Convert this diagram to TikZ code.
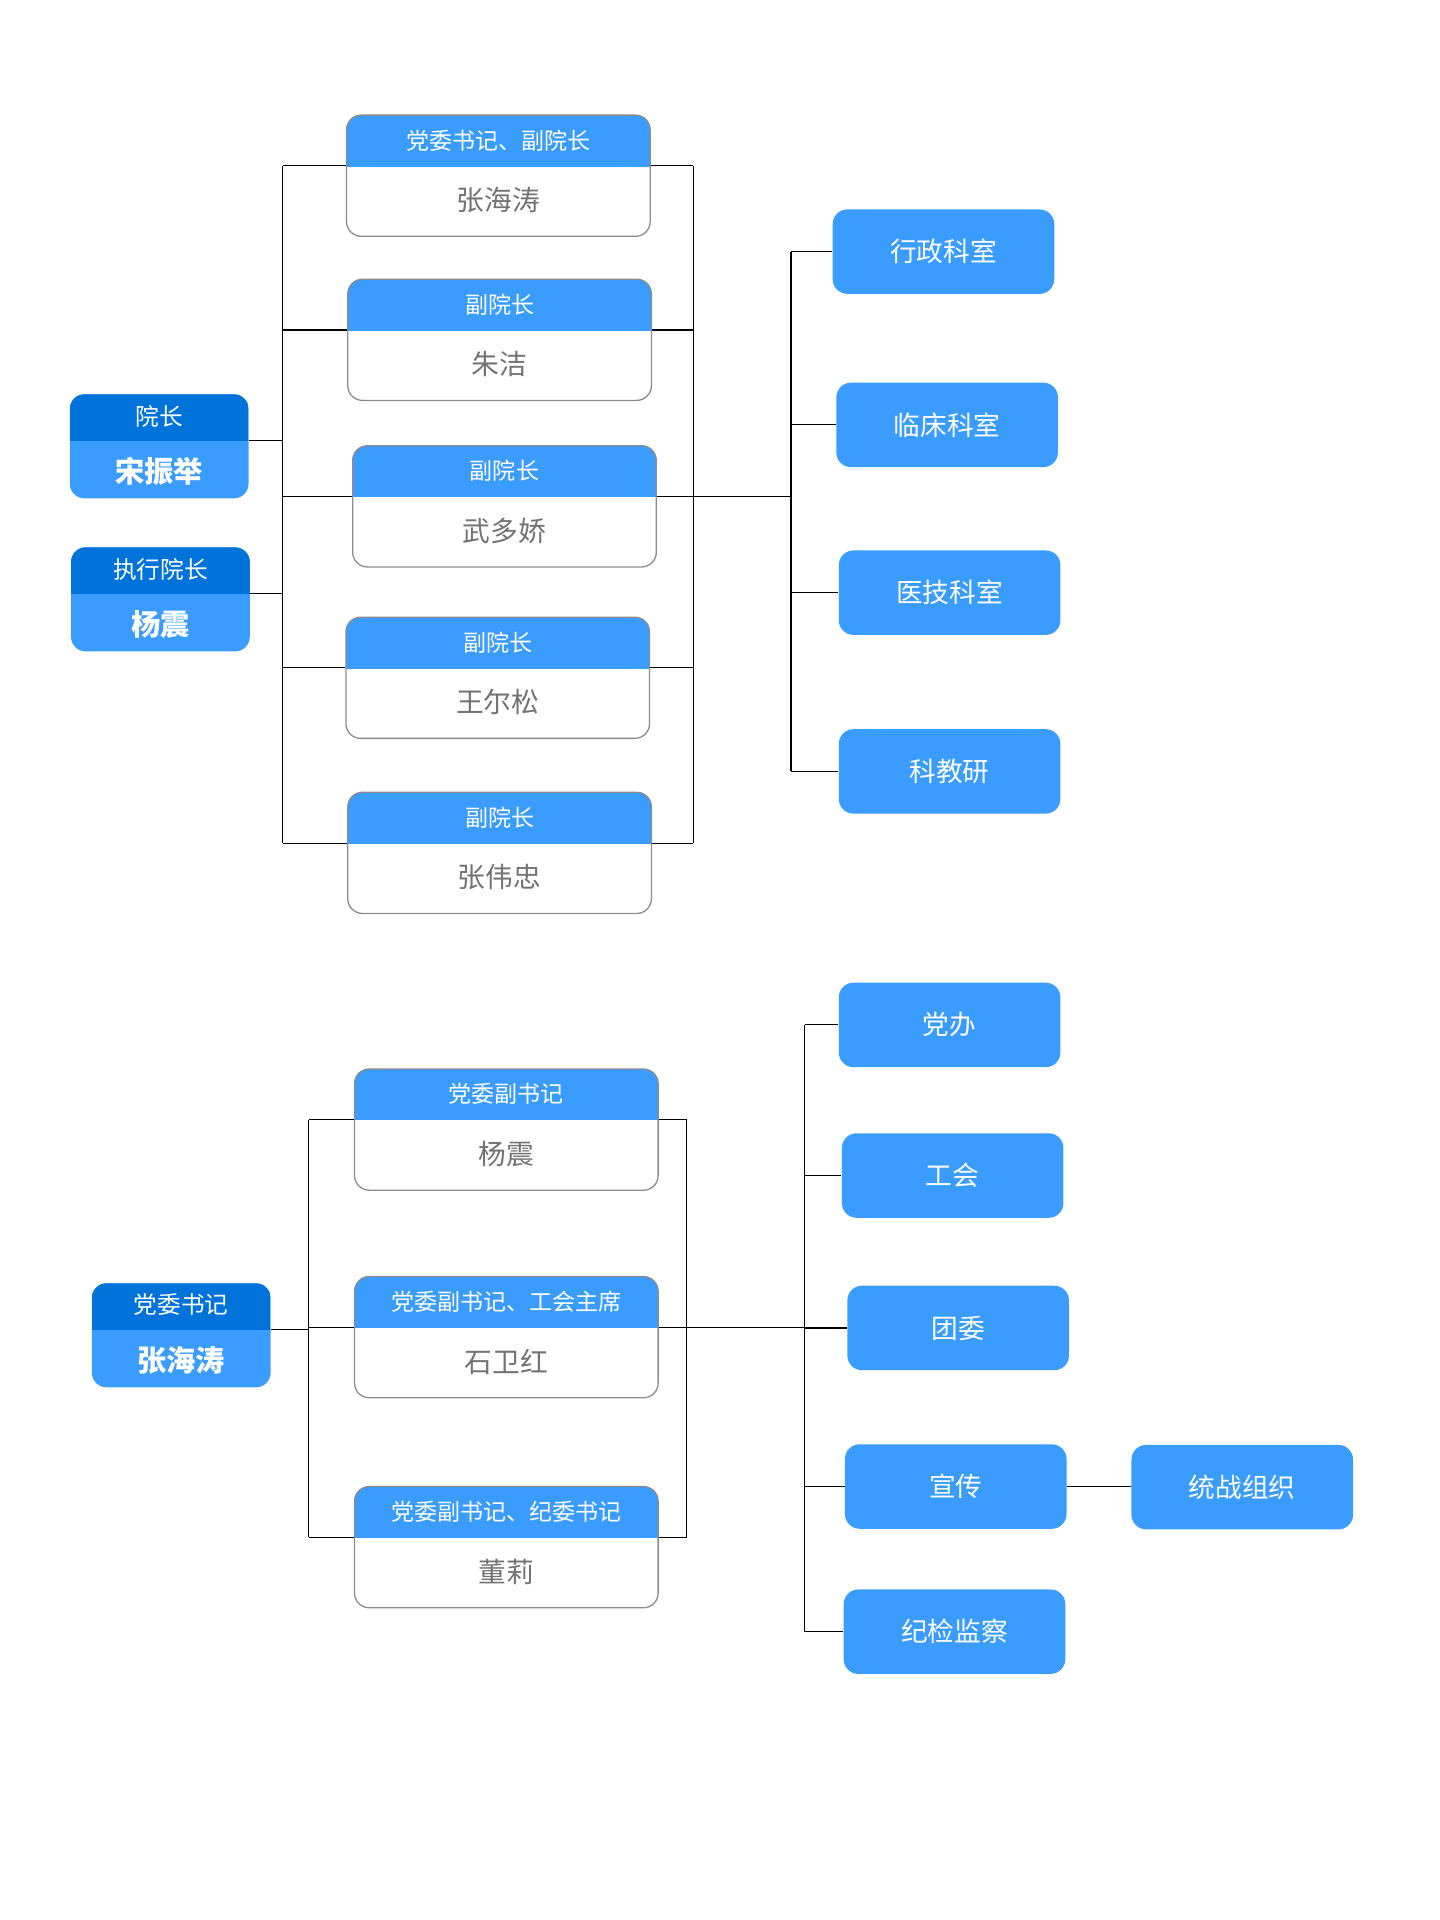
\documentclass[tikz,border=0pt]{standalone}
\usepackage{fontspec}
\setmainfont{Noto Sans CJK SC}
\usetikzlibrary{calc}
\definecolor{orgblue}{RGB}{58,156,255}
\definecolor{orgdark}{RGB}{0,115,219}
\definecolor{orgrim}{RGB}{140,140,140}
\definecolor{orgname}{RGB}{115,115,115}
\tikzset{
  wire/.style      ={draw=black,line width=0.5pt},
  card/.style      ={draw=orgrim,line width=0.6pt,fill=white,rounded corners=0.24cm,
                     minimum width=4.96cm,minimum height=1.98cm,inner sep=0pt,
                     path picture={\fill[orgblue,sharp corners] (path picture bounding box.north west)
                       rectangle ([yshift=-0.84cm]path picture bounding box.north east);}},
  cardtitle/.style ={inner sep=0pt,text=white,font=\fontsize{10.7}{12}\selectfont},
  cardname/.style  ={inner sep=0pt,text=orgname,font=\fontsize{12.9}{15}\selectfont},
  chief/.style     ={fill=orgblue,rounded corners=0.24cm,minimum width=2.92cm,
                     minimum height=1.7cm,inner sep=0pt,
                     path picture={\fill[orgdark,sharp corners] (path picture bounding box.north west)
                       rectangle ([yshift=-0.76cm]path picture bounding box.north east);}},
  chieftitle/.style={inner sep=0pt,text=white,font=\fontsize{11}{13}\selectfont},
  chiefname/.style ={inner sep=0pt,text=white,font=\bfseries\fontsize{13.6}{16}\selectfont},
  dept/.style      ={fill=orgblue,rounded corners=0.24cm,minimum width=3.62cm,
                     minimum height=1.38cm,inner sep=0pt,text=white,
                     font=\fontsize{12.4}{15}\selectfont},
}
% card with blue title strip: name, x, y, title, person
\newcommand{\orgcard}[5]{%
  \node[card] (#1) at (#2,#3) {};
  \node[cardtitle] (#1-t) at ([yshift=-0.42cm]#1.north) {#4};
  \node[cardname] (#1-n) at ([yshift=-1.40cm]#1.north) {#5};
  \coordinate (#1-w) at ([yshift=-0.84cm]#1.north west);
  \coordinate (#1-e) at ([yshift=-0.84cm]#1.north east);
}
% head of a branch: name, x, y, title, person
\newcommand{\chiefbox}[5]{%
  \node[chief] (#1) at (#2,#3) {};
  \node[chieftitle] (#1-t) at ([yshift=-0.36cm]#1.north) {#4};
  \node[chiefname] (#1-n) at ([yshift=-1.26cm]#1.north) {#5};
  \coordinate (#1-e) at ([yshift=-0.76cm]#1.north east);
}

\begin{document}
\begin{tikzpicture}[x=0.02cm,y=-0.02cm]
  \useasboundingbox (0,0) rectangle (1176,1568);
  % hospital side
  \chiefbox{yz}{130}{364.5}{院长}{宋振举}
  \chiefbox{zx}{131}{489.5}{执行院长}{杨震}
  \orgcard{c1}{407}{143.5}{党委书记、副院长}{张海涛}
  \orgcard{c2}{408}{277.5}{副院长}{朱洁}
  \orgcard{c3}{412}{413.5}{副院长}{武多娇}
  \orgcard{c4}{406.5}{553.5}{副院长}{王尔松}
  \orgcard{c5}{408}{696.5}{副院长}{张伟忠}
  \node[dept] (d1) at (770.5,205.5) {行政科室};
  \node[dept] (d2) at (773.5,347) {临床科室};
  \node[dept] (d3) at (775.5,484) {医技科室};
  \node[dept] (d4) at (775.5,630) {科教研};
  \coordinate (lbus) at (231,0);
  \coordinate (rbus) at (566,0);
  \coordinate (dbus) at (646,0);
  \draw[wire] (c1-w -| lbus) -- (c5-w -| lbus);
  \draw[wire] (c1-e -| rbus) -- (c5-e -| rbus);
  \foreach \c in {c1,c2,c3,c4,c5} {
    \draw[wire] (\c-w -| lbus) -- (\c-w);
    \draw[wire] (\c-e) -- (\c-e -| rbus);
  }
  \draw[wire] (yz-e) -- (yz-e -| lbus);
  \draw[wire] (zx-e) -- (zx-e -| lbus);
  \draw[wire] (c3-e -| rbus) -- (c3-e -| dbus);
  \draw[wire] (d1.west -| dbus) -- (d4.west -| dbus);
  \foreach \d in {d1,d2,d3,d4}
    \draw[wire] (\d.west -| dbus) -- (\d.west);

  % party side
  \chiefbox{dw}{148}{1090.5}{党委书记}{张海涛}
  \orgcard{p1}{413.5}{922.5}{党委副书记}{杨震}
  \orgcard{p2}{413.5}{1092}{党委副书记、工会主席}{石卫红}
  \orgcard{p3}{413.5}{1263.5}{党委副书记、纪委书记}{董莉}
  \node[dept] (e1) at (775.5,837) {党办};
  \node[dept] (e2) at (778,960) {工会};
  \node[dept] (e3) at (782.5,1084.5) {团委};
  \node[dept] (e4) at (780.5,1214) {宣传};
  \node[dept] (e5) at (779.5,1332.5) {纪检监察};
  \node[dept] (e6) at (1014.5,1214.5) {统战组织};
  \coordinate (plbus) at (252,0);
  \coordinate (prbus) at (561,0);
  \coordinate (pdbus) at (657,0);
  \draw[wire] (p1-w -| plbus) -- (p3-w -| plbus);
  \draw[wire] (p1-e -| prbus) -- (p3-e -| prbus);
  \foreach \c in {p1,p2,p3} {
    \draw[wire] (\c-w -| plbus) -- (\c-w);
    \draw[wire] (\c-e) -- (\c-e -| prbus);
  }
  \draw[wire] (dw-e) -- (dw-e -| plbus);
  \draw[wire] (p2-e -| prbus) -- (p2-e -| pdbus);
  \draw[wire] (e1.west -| pdbus) -- (e5.west -| pdbus);
  \foreach \d in {e1,e2,e3,e4,e5}
    \draw[wire] (\d.west -| pdbus) -- (\d.west);
  \draw[wire] (e4.east) -- (e4.east -| e6.west);
\end{tikzpicture}
\end{document}
